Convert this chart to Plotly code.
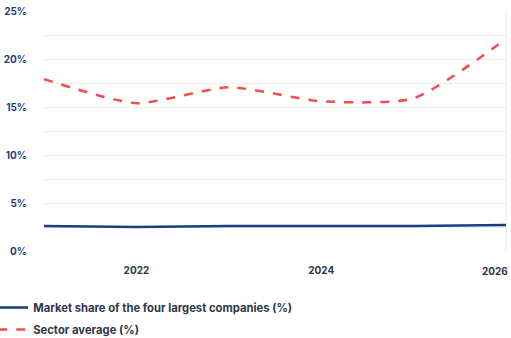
import plotly.graph_objects as go

years = [2021, 2022, 2023, 2024, 2025, 2026]
top4_share = [2.6, 2.5, 2.6, 2.6, 2.6, 2.7]
sector_avg = [17.9, 15.4, 17.05, 15.6, 15.9, 22.1]

y_ticks = [0, 5, 10, 15, 20, 25]
y_labels = [f"{v}%" for v in y_ticks]
x_ticks = [2022, 2024, 2026]
x_labels = ["2022", "2024", ""]
last_year_label = "2026"  # drawn right-aligned at the edge so it stays on the page

tick_font = dict(family="Inter, Open Sans, sans-serif", size=10, color="#2f3747", weight="bold")

fig = go.Figure()
fig.add_trace(go.Scatter(
    x=years, y=top4_share, mode="lines",
    name="Market share of the four largest companies (%)",
    legendgroup="share",
    line=dict(color="#1b3f7e", width=2.5, shape="spline", smoothing=0.6),
))
fig.add_trace(go.Scatter(
    x=years, y=sector_avg, mode="lines",
    name="Sector average (%)",
    legendgroup="sector",
    line=dict(color="#ef4f50", width=2.5, dash="dash", shape="spline", smoothing=0.62),
))

fig.add_shape(type="line", xref="paper", yref="paper", x0=1, x1=1, y0=0, y1=1,
              line=dict(color="#ececec", width=1), layer="below")

fig.add_annotation(x=x_ticks[-1], y=0, xref="x", yref="y", text=last_year_label,
                   showarrow=False, xanchor="right", yanchor="middle",
                   xshift=4, yshift=-20, font=tick_font)

fig.update_layout(
    width=511, height=338,
    margin=dict(l=44, r=5, t=11, b=87, autoexpand=False),
    paper_bgcolor="white", plot_bgcolor="white",
    font=dict(family="Inter, Open Sans, sans-serif", size=10, color="#2f3747"),
    showlegend=True,
    legend=dict(orientation="v", x=-0.11, y=-0.175, xanchor="left", yanchor="top",
                font=dict(size=11.25, color="#2f3747", weight="bold"),
                itemwidth=30, tracegroupgap=3),
    xaxis=dict(range=[2021, 2026], tickvals=x_ticks, ticktext=x_labels,
               showgrid=False, zeroline=False, automargin=False,
               showline=False, ticks="", ticklabelstandoff=12,
               tickfont=tick_font),
    yaxis=dict(range=[0, 25], tickvals=y_ticks, ticktext=y_labels, showgrid=True,
               gridcolor="#ececec", gridwidth=1, zeroline=False, showline=False,
               automargin=False, ticks="", ticklabelstandoff=16,
               tickfont=dict(size=10, color="#1f3f7a", weight="bold"),
               minor=dict(dtick=2.5, showgrid=True, gridcolor="#ececec", gridwidth=1)),
)

fig.write_html("out.html")
